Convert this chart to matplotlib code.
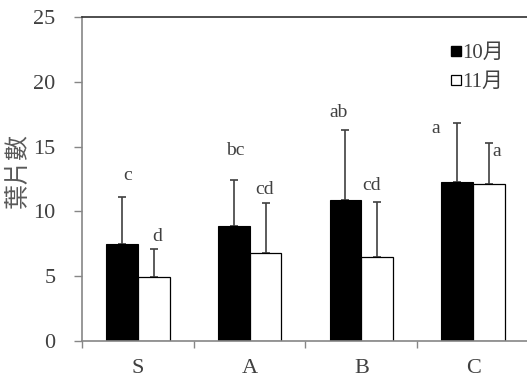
import matplotlib
matplotlib.use('Agg')
import matplotlib.pyplot as plt
from matplotlib.lines import Line2D
import numpy as np

categories = ['S', 'A', 'B', 'C']
oct_mean = [7.5, 8.85, 10.85, 12.3]
oct_err = [3.6, 3.6, 5.4, 4.5]
nov_mean = [4.9, 6.8, 6.45, 12.1]
nov_err = [2.2, 3.85, 4.25, 3.2]
oct_letters = ['c', 'bc', 'ab', 'a']
nov_letters = ['d', 'cd', 'cd', 'a']
series_labels = ['10月', '11月']
y_ticks = [0, 5, 10, 15, 20, 25]
ylabel = '葉片數'

# letter placement (offsets relative to each bar, in data units)
oct_lx = [0.05, 0.01, -0.06, -0.19]
oct_ly = [12.8, 14.7, 17.6, 16.4]
nov_lx = [0.03, -0.01, -0.05, 0.07]
nov_ly = [8.05, 11.7, 12.0, 14.6]

W, H = 527, 378
fig = plt.figure(figsize=(W / 100, H / 100), dpi=100)
ax = fig.add_axes([82 / W, 37 / H, (529 - 82) / W, 324 / H])

serif = ['Liberation Serif', 'DejaVu Serif']
txtc = '#404040'
axc = '#868686'

x = np.arange(len(categories))
w = 0.285
ax.bar(x - w / 2, oct_mean, w, color='black', edgecolor='black', linewidth=0.8, zorder=2)
ax.bar(x + w / 2, nov_mean, w, color='white', edgecolor='black', linewidth=0.9, zorder=2)
ax.errorbar(x - w / 2, oct_mean, yerr=[np.zeros(4), oct_err], fmt='none',
            ecolor=txtc, elinewidth=1.2, capsize=3, capthick=1.2, zorder=1.5)
ax.errorbar(x + w / 2, nov_mean, yerr=[np.zeros(4), nov_err], fmt='none',
            ecolor=txtc, elinewidth=1.2, capsize=3, capthick=1.2, zorder=1.5)

for i in range(len(categories)):
    ax.text(x[i] - w / 2 + oct_lx[i], oct_ly[i], oct_letters[i], ha='center', va='center',
            fontsize=14, color=txtc, family=serif)
    ax.text(x[i] + w / 2 + nov_lx[i], nov_ly[i], nov_letters[i], ha='center', va='center',
            fontsize=14, color=txtc, family=serif)

ax.set_xlim(-0.5, 3.5)
ax.set_ylim(0, 25)
ax.set_yticks(y_ticks)
ax.set_yticklabels([str(t) for t in y_ticks], fontsize=16, color=txtc, family=serif)
ax.tick_params(axis='y', direction='out', length=6, width=1, color=axc, pad=13)

ax.set_xticks(np.arange(-0.5, 4.0, 1.0))
ax.set_xticklabels([])
ax.tick_params(axis='x', which='major', direction='out', length=5, width=1, color=axc)
ax.set_xticks(x, minor=True)
ax.set_xticklabels(categories, minor=True, fontsize=16, color=txtc, family=serif)
ax.tick_params(axis='x', which='minor', length=0, pad=13)

for s in ['left', 'bottom']:
    ax.spines[s].set_color(axc)
    ax.spines[s].set_linewidth(1.2)
ax.spines['top'].set_color('#303030')
ax.spines['top'].set_linewidth(1.2)
ax.spines['right'].set_visible(False)

handles = [Line2D([], [], marker='s', linestyle='none', markersize=7,
                  markerfacecolor='black', markeredgecolor='black'),
           Line2D([], [], marker='s', linestyle='none', markersize=7,
                  markerfacecolor='white', markeredgecolor='black', markeredgewidth=0.9)]
leg = ax.legend(handles, series_labels, loc='upper left',
                bbox_to_anchor=(440 / W, 1 - 33 / H), bbox_transform=fig.transFigure,
                frameon=False, handlelength=0.5, handletextpad=0.05, labelspacing=0.45,
                borderpad=0, prop={'family': ['Liberation Serif', 'Noto Sans CJK TC'], 'size': 15})
for t in leg.get_texts():
    t.set_color(txtc)

fig.text(18 / W, 1 - 170 / H, ylabel, rotation=90, ha='center', va='center',
         fontsize=18, color='#595959', family=['Noto Sans CJK TC', 'DejaVu Sans'])

fig.savefig('out.png', dpi=100)
